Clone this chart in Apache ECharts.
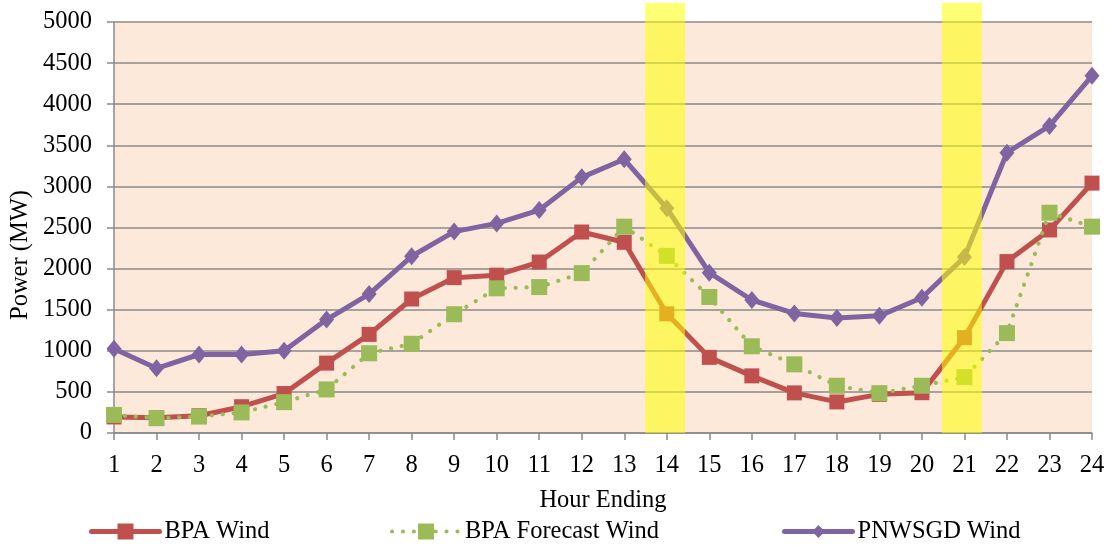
<!DOCTYPE html>
<html>
<head>
<meta charset="utf-8">
<script src="https://cdn.jsdelivr.net/npm/echarts@6/dist/echarts.min.js"></script>
<style>
  html, body { margin: 0; padding: 0; background: #ffffff; }
  #chart { width: 1114px; height: 545px; }
</style>
</head>
<body>
<div id="chart"></div>
<script>
// Hour-ending categories
const hours = [1, 2, 3, 4, 5, 6, 7, 8, 9, 10, 11, 12, 13, 14, 15, 16, 17, 18, 19, 20, 21, 22, 23, 24];

// Wind generation, MW
const bpaWind = [195, 185, 210, 320, 480, 850, 1200, 1630, 1890, 1920, 2080, 2445, 2320, 1450, 920, 695, 488, 378, 470, 490, 1160, 2085, 2470, 3040];
const bpaForecastWind = [220, 180, 200, 250, 375, 530, 970, 1085, 1445, 1760, 1775, 1945, 2510, 2155, 1655, 1055, 835, 575, 485, 575, 680, 1215, 2680, 2510];
const pnwsgdWind = [1025, 787, 955, 955, 1000, 1380, 1690, 2150, 2450, 2550, 2712, 3110, 3330, 2735, 1950, 1618, 1455, 1400, 1425, 1645, 2140, 3410, 3735, 4345];

// Highlighted hour spans (hour-ending units)
const highlightSpans = [[13.49, 14.43], [20.47, 21.41]];

// Power axis ticks
const yMin = 0, yMax = 5000, yStep = 500;

const FONT = '"Liberation Serif", "Times New Roman", serif';
const FONT_SIZE = 24.5;
const GRID_LINE = '#8a8a8a';
const RED = '#C0504D', GREEN = '#9BBB59', PURPLE = '#8064A2';

const pairs = arr => hours.map((h, i) => [h, arr[i]]);

const chart = echarts.init(document.getElementById('chart'), null, { renderer: 'canvas' });

const legendBase = {
  top: 519,
  padding: 0,
  itemWidth: 68,
  itemHeight: 20,
  itemGap: 0,
  textStyle: { fontFamily: FONT, fontSize: FONT_SIZE, color: '#000' },
  selectedMode: false
};

chart.setOption({
  animation: false,
  backgroundColor: '#ffffff',
  grid: [
    { left: 114, right: 22, top: 22, bottom: 112, show: true, backgroundColor: '#FDE9D9', borderWidth: 0 },
    { left: 114, right: 22, top: 3, bottom: 112, show: false }
  ],
  xAxis: [
    {
      gridIndex: 0,
      type: 'value',
      min: 1, max: 24, interval: 1,
      name: 'Hour Ending',
      nameLocation: 'middle',
      nameGap: 55,
      nameTextStyle: { fontFamily: FONT, fontSize: FONT_SIZE, color: '#000' },
      axisLine: { show: true, lineStyle: { color: GRID_LINE, width: 1.5 } },
      axisTick: { show: true, length: 7, lineStyle: { color: GRID_LINE, width: 1.5 } },
      axisLabel: { margin: 20, fontFamily: FONT, fontSize: FONT_SIZE, color: '#000', formatter: v => String(v) },
      splitLine: { show: false }
    },
    {
      gridIndex: 1,
      type: 'value',
      min: 1, max: 24,
      show: false
    }
  ],
  yAxis: [
    {
      gridIndex: 0,
      type: 'value',
      min: yMin, max: yMax, interval: yStep,
      axisLine: { show: true, lineStyle: { color: GRID_LINE, width: 1.5 } },
      axisTick: { show: true, length: 7, lineStyle: { color: GRID_LINE, width: 1.5 } },
      axisLabel: { margin: 22, fontFamily: FONT, fontSize: FONT_SIZE, color: '#000', formatter: v => String(v) },
      splitLine: { show: true, lineStyle: { color: GRID_LINE, width: 1.5 } }
    },
    {
      gridIndex: 1,
      type: 'value',
      min: 0, max: 1,
      show: false
    }
  ],
  legend: [
    Object.assign({ left: 89, data: ['BPA Wind'], lineStyle: { width: 5 } }, legendBase),
    Object.assign({ left: 390, data: ['BPA Forecast Wind'], lineStyle: { width: 4 } }, legendBase),
    Object.assign({ left: 782, data: ['PNWSGD Wind'], lineStyle: { width: 5 } }, legendBase, { itemHeight: 16 })
  ],
  graphic: [
    {
      type: 'text',
      x: 21, y: 255,
      rotation: Math.PI / 2,
      style: {
        text: 'Power (MW)',
        font: FONT_SIZE + 'px ' + FONT,
        fill: '#000',
        align: 'center',
        verticalAlign: 'middle'
      }
    }
  ],
  series: [
    {
      name: 'BPA Wind',
      type: 'line',
      data: pairs(bpaWind),
      z: 2,
      symbol: 'rect',
      symbolSize: 15,
      showAllSymbol: true,
      lineStyle: { color: RED, width: 5, cap: 'round', join: 'round' },
      itemStyle: { color: RED, borderWidth: 0 }
    },
    {
      name: 'BPA Forecast Wind',
      type: 'line',
      data: pairs(bpaForecastWind),
      z: 3,
      symbol: 'rect',
      symbolSize: 16,
      showAllSymbol: true,
      lineStyle: { color: GREEN, width: 4.2, type: [0.1, 10.8], cap: 'round' },
      itemStyle: { color: GREEN, borderWidth: 0 }
    },
    {
      name: 'PNWSGD Wind',
      type: 'line',
      data: pairs(pnwsgdWind),
      z: 4,
      symbol: 'diamond',
      symbolSize: [15, 18],
      showAllSymbol: true,
      lineStyle: { color: PURPLE, width: 5, cap: 'round', join: 'round' },
      itemStyle: { color: PURPLE, borderWidth: 0 }
    },
    {
      name: 'highlight',
      type: 'line',
      xAxisIndex: 1,
      yAxisIndex: 1,
      data: [],
      z: 10,
      silent: true,
      markArea: {
        z: 10,
        silent: true,
        itemStyle: { color: 'rgba(255,255,0,0.55)', borderWidth: 0 },
        data: highlightSpans.map(([a, b]) => [{ xAxis: a, yAxis: 0 }, { xAxis: b, yAxis: 1 }])
      }
    }
  ]
});
</script>
</body>
</html>
